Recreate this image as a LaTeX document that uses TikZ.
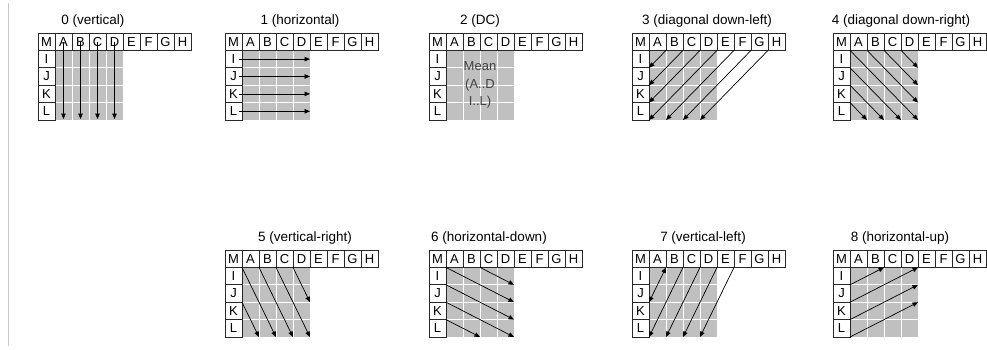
\documentclass[tikz,border=0pt]{standalone}
\usepackage{fontspec}
\setmainfont{Liberation Sans}
\usetikzlibrary{arrows.meta,calc}
\definecolor{blockgray}{RGB}{192,192,192}
\definecolor{boxline}{RGB}{40,40,40}
\definecolor{rulegray}{RGB}{200,200,200}
\tikzset{
  cellbox/.style={draw=boxline, line width=0.8pt, fill=white, minimum width=17pt, minimum height=17.4pt, inner sep=0pt, outer sep=0pt, font=\fontsize{13}{13}\selectfont},
  titletext/.style={inner sep=0pt, font=\fontsize{13.5}{14}\selectfont},
  gridwhite/.style={white, line width=0.9pt},
  arr/.style={line width=0.7pt, -{Triangle[length=5.5pt,width=4.5pt]}},
  darr/.style={line width=0.7pt, {Triangle[length=5.5pt,width=4.5pt]}-{Triangle[length=5.5pt,width=4.5pt]}},
  meantext/.style={align=center, inner sep=0pt, text=black!75, font=\fontsize{13}{17.4}\selectfont}
}
\newcommand{\mkpanel}[5]{%
  \foreach \gx in {0,...,18}{\foreach \gy in {0,...,10}{\coordinate (#1-\gx-\gy) at ({#2+\gx*8.5},{#3+\gy*8.7});}}
  \fill[blockgray] (#1-2-2) rectangle (#1-10-10);
  \foreach \k in {4,6,8}{\draw[gridwhite] (#1-\k-2) -- (#1-\k-10); \draw[gridwhite] (#1-2-\k) -- (#1-10-\k);}
  \foreach \c/\l in {0/M,1/A,2/B,3/C,4/D,5/E,6/F,7/G,8/H}{\pgfmathtruncatemacro{\cx}{2*\c+1}\node[cellbox] (#1-\l) at (#1-\cx-1) {\l};}
  \foreach \r/\l in {1/I,2/J,3/K,4/L}{\pgfmathtruncatemacro{\ry}{2*\r+1}\node[cellbox] (#1-\l) at (#1-1-\ry) {\l};}
  \node[titletext] (#1-title) at (#4,#3-12) {#5};
}
\begin{document}
\begin{tikzpicture}[x=1pt,y=-1pt]
\useasboundingbox (0,0) rectangle (987,349);
\coordinate (rtop) at (8,3);
\coordinate (rbot) at (8,346);
\draw[rulegray, line width=1pt] (rtop) -- (rbot);

\mkpanel{p0}{38}{33}{93}{0 (vertical)}
\mkpanel{p1}{225}{33}{300}{1 (horizontal)}
\mkpanel{p2}{429}{33}{480}{2 (DC)}
\mkpanel{p3}{632}{33}{707}{3 (diagonal down-left)}
\mkpanel{p4}{833}{33}{901}{4 (diagonal down-right)}
\mkpanel{p5}{225}{250}{305}{5 (vertical-right)}
\mkpanel{p6}{429}{250}{489}{6 (horizontal-down)}
\mkpanel{p7}{632}{250}{703}{7 (vertical-left)}
\mkpanel{p8}{833}{250}{900}{8 (horizontal-up)}

% mode 0
\foreach \x in {3,5,7,9}{\draw[arr, shorten >=1pt] (p0-\x-1) -- (p0-\x-10);}
% mode 1
\foreach \y in {3,5,7,9}{\draw[arr, shorten <=-3pt] (p1-2-\y) -- (p1-10-\y);}
% mode 2
\node[meantext] (meanlbl) at (p2-6-6) {Mean\\(A..D\\I..L)};
% mode 3
\foreach \a/\b/\c/\d in {4/2/2/4,6/2/2/6,8/2/2/8,10/2/2/10,12/2/4/10,14/2/6/10,16/2/8/10}{\draw[arr] (p3-\a-\b) -- (p3-\c-\d);}
% mode 4
\foreach \a/\b/\c/\d in {2/2/10/10,4/2/10/8,6/2/10/6,8/2/10/4,2/4/8/10,2/6/6/10,2/8/4/10}{\draw[arr] (p4-\a-\b) -- (p4-\c-\d);}
% mode 5
\foreach \a/\b/\c/\d in {2/2/6/10,4/2/8/10,6/2/10/10,8/2/10/6,2/6/4/10}{\draw[arr] (p5-\a-\b) -- (p5-\c-\d);}
% mode 6
\foreach \a/\b/\c/\d in {6/2/10/4,2/2/10/6,2/4/10/8,2/6/10/10,2/8/6/10}{\draw[arr] (p6-\a-\b) -- (p6-\c-\d);}
% mode 7
\foreach \a/\b/\c/\d in {6/2/2/10,8/2/4/10,10/2/6/10,12/2/8/10}{\draw[arr] (p7-\a-\b) -- (p7-\c-\d);}
\draw[darr] (p7-4-2) -- (p7-2-6);
% mode 8
\foreach \a/\b/\c/\d in {2/4/6/2,2/6/10/2,2/8/10/4,2/10/10/6}{\draw[arr] (p8-\a-\b) -- (p8-\c-\d);}
\end{tikzpicture}
\end{document}
